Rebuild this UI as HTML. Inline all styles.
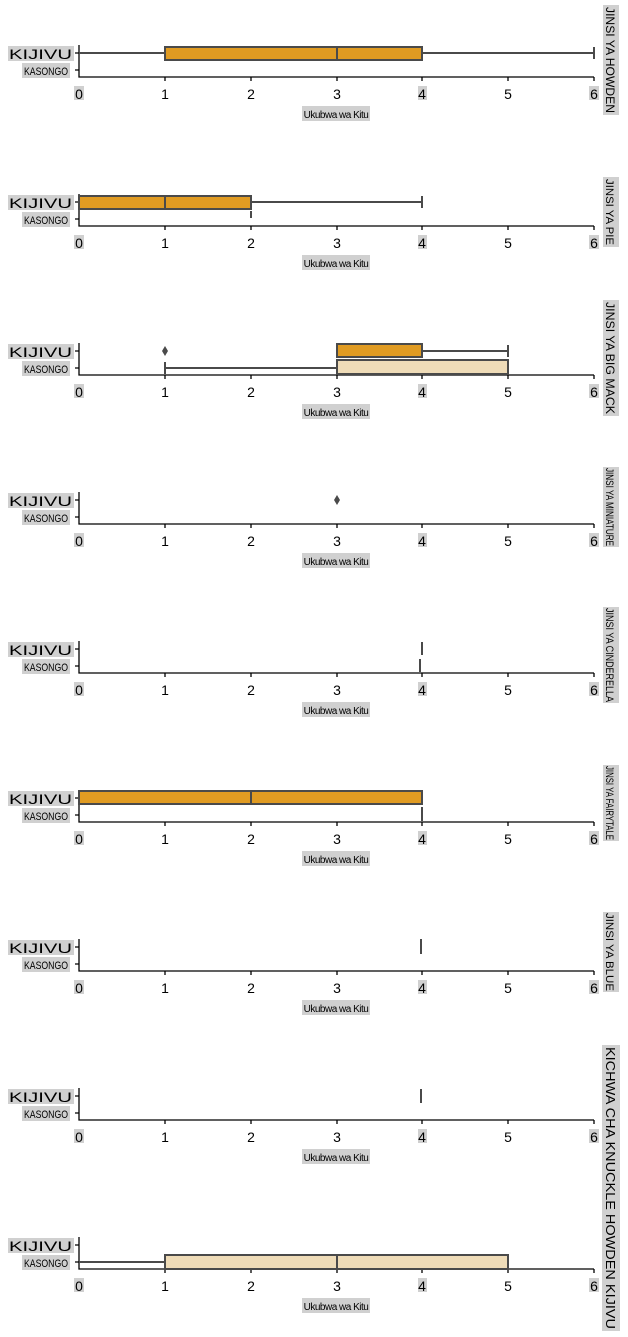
<!DOCTYPE html>
<html><head><meta charset="utf-8"><style>
body{margin:0;background:#fff;width:628px;height:1337px;overflow:hidden}
svg{display:block}
text{font-family:"Liberation Sans","DejaVu Sans",sans-serif;fill:#000}
.tk{font-size:14px;text-anchor:middle}
.xl{font-size:10px;text-anchor:middle;letter-spacing:-0.5px}
.bx{stroke:#4a4a4a;stroke-width:2}
.ln{stroke:#4a4a4a;stroke-width:2;fill:none}
.ax{stroke:#000;stroke-width:1.3;fill:none}
</style></head><body>
<svg width="628" height="1337" xmlns="http://www.w3.org/2000/svg">
<defs>
<g id="axes">
<rect x="8" y="46" width="66" height="15" fill="#d0d0d0"/>
<text x="9" y="59" style="font-size:14px" textLength="63" lengthAdjust="spacingAndGlyphs">KIJIVU</text>
<rect x="22" y="63" width="48" height="15" fill="#d0d0d0"/>
<text x="24" y="75" style="font-size:11px" textLength="44" lengthAdjust="spacingAndGlyphs">KASONGO</text>
<path class="ax" d="M79 45 V77 H594"/>
<path class="ax" d="M75 53 H79 M75 70 H79 M165 77 V81 M251 77 V81 M337 77 V81 M422 77 V81 M508 77 V81 M594 77 V81"/>
<rect x="302" y="106" width="68" height="15" fill="#d0d0d0"/>
<text class="xl" x="336" y="118">Ukubwa wa Kitu</text>
<rect x="74" y="86" width="10" height="14" fill="#d0d0d0"/>
<text class="tk" x="79" y="99">0</text>
<text class="tk" x="165" y="99">1</text>
<text class="tk" x="251" y="99">2</text>
<text class="tk" x="337" y="99">3</text>
<rect x="418" y="86" width="9" height="14" fill="#d0d0d0"/>
<text class="tk" x="422" y="99">4</text>
<text class="tk" x="508" y="99">5</text>
<rect x="589" y="86" width="10" height="14" fill="#d0d0d0"/>
<text class="tk" x="594" y="99">6</text>
</g>
</defs>

<g><use href="#axes"/>
<path class="ln" d="M79 53 H165 M422 53 H594 M594 47 V59"/>
<rect class="bx" x="165" y="47" width="257" height="13" fill="#e09b22"/>
<path class="ln" d="M337 47 V60"/>
</g>
<g transform="translate(611,60) rotate(90)"><rect x="-55" y="-8" width="110" height="16" fill="#d0d0d0"/><text x="-53" y="5" style="font-size:12px" textLength="106" lengthAdjust="spacingAndGlyphs">JINSI YA HOWDEN</text></g>

<g transform="translate(0,149)"><use href="#axes"/>
<path class="ln" d="M251 53 H422 M422 47 V59 M251 62 V69"/>
<rect class="bx" x="79" y="47" width="172" height="13" fill="#e09b22"/>
<path class="ln" d="M165 47 V60"/>
</g>
<g transform="translate(611,212) rotate(90)"><rect x="-35" y="-8" width="70" height="16" fill="#d0d0d0"/><text x="-33" y="5" style="font-size:11px" textLength="66" lengthAdjust="spacingAndGlyphs">JINSI YA PIE</text></g>

<g transform="translate(0,298)"><use href="#axes"/>
<path class="ln" d="M422 53 H508 M508 47 V59 M165 70 H337 M165 64 V76"/>
<path d="M165 48 L168 53 L165 58 L162 53 Z" fill="#4a4a4a"/>
<rect class="bx" x="337" y="46" width="85" height="13" fill="#e09b22"/>
<rect class="bx" x="337" y="62" width="171" height="14" fill="#efdcb8"/>
</g>
<g transform="translate(611,358) rotate(90)"><rect x="-58" y="-8" width="116" height="16" fill="#d0d0d0"/><text x="-56" y="5" style="font-size:12px" textLength="112" lengthAdjust="spacingAndGlyphs">JINSI YA BIG MACK</text></g>

<g transform="translate(0,447)"><use href="#axes"/>
<path d="M337 48 L340 53 L337 58 L334 53 Z" fill="#4a4a4a"/>
</g>
<g transform="translate(611,507) rotate(90)"><rect x="-40" y="-8" width="80" height="16" fill="#d0d0d0"/><text x="-39" y="5" style="font-size:11px" textLength="78" lengthAdjust="spacingAndGlyphs">JINSI YA MINIATURE</text></g>

<g transform="translate(0,596)"><use href="#axes"/>
<path class="ln" d="M422 46 V59 M420 63 V76"/>
</g>
<g transform="translate(611,655) rotate(90)"><rect x="-48" y="-8" width="96" height="16" fill="#d0d0d0"/><text x="-47" y="5" style="font-size:11px" textLength="94" lengthAdjust="spacingAndGlyphs">JINSI YA CINDERELLA</text></g>

<g transform="translate(0,745)"><use href="#axes"/>
<rect class="bx" x="79" y="46" width="343" height="13" fill="#e09b22"/>
<path class="ln" d="M251 46 V59 M422 62 V76"/>
</g>
<g transform="translate(611,803) rotate(90)"><rect x="-38" y="-8" width="76" height="16" fill="#d0d0d0"/><text x="-37" y="5" style="font-size:11px" textLength="74" lengthAdjust="spacingAndGlyphs">JINSI YA FAIRYTALE</text></g>

<g transform="translate(0,894)"><use href="#axes"/>
<path class="ln" d="M421 45 V60"/>
</g>
<g transform="translate(611,952) rotate(90)"><rect x="-40" y="-8" width="80" height="16" fill="#d0d0d0"/><text x="-39" y="5" style="font-size:11px" textLength="78" lengthAdjust="spacingAndGlyphs">JINSI YA BLUE</text></g>

<g transform="translate(0,1043)"><use href="#axes"/>
<path class="ln" d="M421 46 V60"/>
</g>

<g transform="translate(0,1192)"><use href="#axes"/>
<path class="ln" d="M79 70 H165"/>
<rect class="bx" x="165" y="63" width="343" height="14" fill="#efdcb8"/>
<path class="ln" d="M337 63 V77"/>
</g>
<g transform="translate(611,1188) rotate(90)"><rect x="-143" y="-9" width="286" height="18" fill="#d0d0d0"/><text x="-141" y="5" style="font-size:13px" textLength="282" lengthAdjust="spacingAndGlyphs">KICHWA CHA KNUCKLE HOWDEN KIJIVU</text></g>
</svg>
</body></html>
